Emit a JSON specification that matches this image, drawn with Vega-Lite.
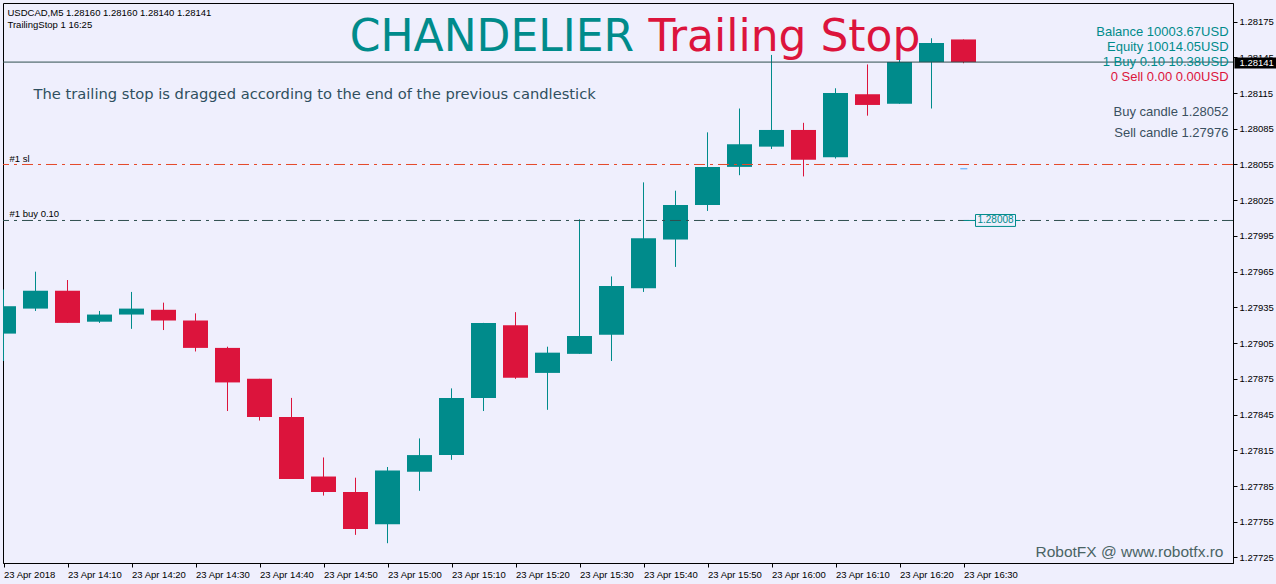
{
  "$schema": "https://vega.github.io/schema/vega-lite/v6.json",
  "width": 1230,
  "height": 560,
  "autosize": {"type": "none"},
  "padding": {"left": 3, "top": 3, "right": 43, "bottom": 21},
  "background": "#EFEFFD",
  "config": {
    "view": {"stroke": "#000000", "strokeWidth": 1, "fill": "#EFEFFD"},
    "axis": {"labelOverlap": false, "labelFlush": false, "labelBound": false, "grid": false}
  },
  "datasets": {
    "candles": [
      {"t": 0, "open": 1.27913, "high": 1.27950, "low": 1.27890, "close": 1.27936},
      {"t": 5, "open": 1.27934, "high": 1.27965, "low": 1.27932, "close": 1.27949},
      {"t": 10, "open": 1.27949, "high": 1.27958, "low": 1.27922, "close": 1.27922},
      {"t": 15, "open": 1.27923, "high": 1.27932, "low": 1.27922, "close": 1.27929},
      {"t": 20, "open": 1.27929, "high": 1.27948, "low": 1.27917, "close": 1.27934},
      {"t": 25, "open": 1.27933, "high": 1.27939, "low": 1.27916, "close": 1.27924},
      {"t": 30, "open": 1.27924, "high": 1.27930, "low": 1.27898, "close": 1.27901},
      {"t": 35, "open": 1.27901, "high": 1.27902, "low": 1.27848, "close": 1.27872},
      {"t": 40, "open": 1.27875, "high": 1.27875, "low": 1.27840, "close": 1.27843},
      {"t": 45, "open": 1.27843, "high": 1.27859, "low": 1.27791, "close": 1.27791},
      {"t": 50, "open": 1.27793, "high": 1.27809, "low": 1.27777, "close": 1.27780},
      {"t": 55, "open": 1.27780, "high": 1.27792, "low": 1.27744, "close": 1.27749},
      {"t": 60, "open": 1.27753, "high": 1.27801, "low": 1.27737, "close": 1.27798},
      {"t": 65, "open": 1.27797, "high": 1.27825, "low": 1.27781, "close": 1.27811},
      {"t": 70, "open": 1.27811, "high": 1.27867, "low": 1.27807, "close": 1.27859},
      {"t": 75, "open": 1.27859, "high": 1.27922, "low": 1.27848, "close": 1.27922},
      {"t": 80, "open": 1.27920, "high": 1.27931, "low": 1.27875, "close": 1.27876},
      {"t": 85, "open": 1.27880, "high": 1.27902, "low": 1.27849, "close": 1.27897},
      {"t": 90, "open": 1.27896, "high": 1.28009, "low": 1.27896, "close": 1.27911},
      {"t": 95, "open": 1.27912, "high": 1.27961, "low": 1.27890, "close": 1.27953},
      {"t": 100, "open": 1.27951, "high": 1.28040, "low": 1.27948, "close": 1.27993},
      {"t": 105, "open": 1.27992, "high": 1.28033, "low": 1.27969, "close": 1.28021},
      {"t": 110, "open": 1.28021, "high": 1.28082, "low": 1.28016, "close": 1.28053},
      {"t": 115, "open": 1.28053, "high": 1.28102, "low": 1.28046, "close": 1.28072},
      {"t": 120, "open": 1.28070, "high": 1.28147, "low": 1.28068, "close": 1.28084},
      {"t": 125, "open": 1.28084, "high": 1.28090, "low": 1.28045, "close": 1.28059},
      {"t": 130, "open": 1.28061, "high": 1.28119, "low": 1.28060, "close": 1.28115},
      {"t": 135, "open": 1.28114, "high": 1.28139, "low": 1.28096, "close": 1.28105},
      {"t": 140, "open": 1.28106, "high": 1.28166, "low": 1.28106, "close": 1.28141},
      {"t": 145, "open": 1.28141, "high": 1.28161, "low": 1.28102, "close": 1.28157},
      {"t": 150, "open": 1.28160, "high": 1.28160, "low": 1.28140, "close": 1.28141}
    ]
  },
  "layer": [
    {
      "data": {"name": "candles"},
      "mark": {"type": "rule", "clip": true, "strokeWidth": 1},
      "encoding": {
        "x": {
          "field": "t", "type": "quantitative", "title": null,
          "scale": {"domain": [-0.078125, 192.109375], "nice": false, "zero": false, "padding": 0},
          "axis": {
            "title": null, "orient": "bottom", "grid": false, "tickCount": 40,
            "values": [0, 10, 20, 30, 40, 50, 60, 70, 80, 90, 100, 110, 120, 130, 140, 150],
            "labelExpr": "datum.value == 0 ? '23 Apr 2018' : '23 Apr ' + floor((840 + datum.value) / 60) + ':' + (((840 + datum.value) % 60) < 10 ? '0' : '') + ((840 + datum.value) % 60)",
            "labelAlign": "left", "labelBaseline": "top", "labelPadding": 2,
            "tickSize": 4, "tickColor": "#000000", "domainColor": "#000000",
            "labelColor": "#000000", "labelFont": "Liberation Sans", "labelFontSize": 9.5,
            "labelOverlap": false, "labelFlush": false, "labelBound": false
          }
        },
        "y": {
          "field": "low", "type": "quantitative", "title": null,
          "scale": {"domain": [1.2772038, 1.2819061], "nice": false, "zero": false, "padding": 0},
          "axis": {
            "title": null, "orient": "right", "grid": false, "tickCount": 40,
            "values": [1.27725, 1.27755, 1.27785, 1.27815, 1.27845, 1.27875, 1.27905, 1.27935, 1.27965, 1.27995, 1.28025, 1.28055, 1.28085, 1.28115, 1.28145, 1.28175],
            "format": ".5f", "tickSize": 4, "labelPadding": 2,
            "tickColor": "#000000", "domainColor": "#000000",
            "labelColor": "#000000", "labelFont": "Liberation Sans", "labelFontSize": 9.5,
            "labelBaseline": "middle", "labelOverlap": false, "labelFlush": false, "labelBound": false
          }
        },
        "y2": {"field": "high"},
        "color": {"condition": {"test": "datum.close >= datum.open", "value": "#008B8B"}, "value": "#DC143C"}
      }
    },
    {
      "data": {"name": "candles"},
      "mark": {"type": "bar", "clip": true, "width": 25},
      "encoding": {
        "x": {"field": "t", "type": "quantitative", "title": null},
        "y": {"field": "open", "type": "quantitative", "title": null},
        "y2": {"field": "close"},
        "color": {"condition": {"test": "datum.close >= datum.open", "value": "#008B8B"}, "value": "#DC143C"}
      }
    },
    {
      "data": {"values": [{"p": 1.28141}]},
      "mark": {"type": "rule", "color": "#2F4F4F", "strokeWidth": 1},
      "encoding": {"y": {"field": "p", "type": "quantitative", "title": null}}
    },
    {
      "data": {"values": [{"p": 1.28055}]},
      "mark": {"type": "rule", "color": "#E5492A", "strokeWidth": 1, "strokeDash": [11, 5, 3, 5]},
      "encoding": {"y": {"field": "p", "type": "quantitative", "title": null}}
    },
    {
      "data": {"values": [{"p": 1.28008}]},
      "mark": {"type": "rule", "color": "#2F4F4F", "strokeWidth": 1, "strokeDash": [11, 5, 3, 5]},
      "encoding": {"y": {"field": "p", "type": "quantitative", "title": null}}
    },
    {
      "data": {"values": [{"t": 150, "t2": 158.9, "p": 1.28008}]},
      "mark": {"type": "rule", "color": "#008B8B", "strokeWidth": 1},
      "encoding": {
        "x": {"field": "t", "type": "quantitative", "title": null},
        "x2": {"field": "t2"},
        "y": {"field": "p", "type": "quantitative", "title": null}
      }
    },
    {
      "data": {"values": [{"t": 149.5, "t2": 150.6, "p": 1.280514}]},
      "mark": {"type": "rule", "color": "#4DA6FF", "strokeWidth": 1},
      "encoding": {
        "x": {"field": "t", "type": "quantitative", "title": null},
        "x2": {"field": "t2"},
        "y": {"field": "p", "type": "quantitative", "title": null}
      }
    },
    {
      "data": {"values": [{"t": 151.875, "t2": 158.125, "p": 1.28013, "p2": 1.28003}]},
      "mark": {"type": "rect", "fill": "#EFEFFD", "stroke": "#008B8B", "strokeWidth": 1},
      "encoding": {
        "x": {"field": "t", "type": "quantitative", "title": null},
        "x2": {"field": "t2"},
        "y": {"field": "p", "type": "quantitative", "title": null},
        "y2": {"field": "p2"}
      }
    },
    {
      "data": {"values": [{"t": 155, "p": 1.28008, "text": "1.28008"}]},
      "mark": {"type": "text", "align": "center", "baseline": "middle", "font": "Liberation Sans", "fontSize": 10, "color": "#008B8B"},
      "encoding": {
        "x": {"field": "t", "type": "quantitative", "title": null},
        "y": {"field": "p", "type": "quantitative", "title": null},
        "text": {"field": "text"}
      }
    },
    {
      "data": {"values": [{"t": 192.34, "t2": 199.0, "p": 1.281448, "p2": 1.281356}]},
      "mark": {"type": "rect", "fill": "#000000"},
      "encoding": {
        "x": {"field": "t", "type": "quantitative", "title": null},
        "x2": {"field": "t2"},
        "y": {"field": "p", "type": "quantitative", "title": null},
        "y2": {"field": "p2"}
      }
    },
    {
      "data": {"values": [{"t": 193.125, "p": 1.281402, "text": "1.28141"}]},
      "mark": {"type": "text", "align": "left", "baseline": "middle", "font": "Liberation Sans", "fontSize": 9.5, "color": "#FFFFFF"},
      "encoding": {
        "x": {"field": "t", "type": "quantitative", "title": null},
        "y": {"field": "p", "type": "quantitative", "title": null},
        "text": {"field": "text"}
      }
    },
    {
      "data": {"values": [
        {"t": 0.625, "p": 1.281801, "text": "USDCAD,M5  1.28160 1.28160 1.28140 1.28141"},
        {"t": 0.625, "p": 1.281700, "text": "TrailingStop 1 16:25"},
        {"t": 0.9375, "p": 1.280575, "text": "#1 sl"},
        {"t": 0.9375, "p": 1.280105, "text": "#1 buy 0.10"}
      ]},
      "mark": {"type": "text", "align": "left", "baseline": "alphabetic", "font": "Liberation Sans", "fontSize": 9.5, "color": "#000000"},
      "encoding": {
        "x": {"field": "t", "type": "quantitative", "title": null},
        "y": {"field": "p", "type": "quantitative", "title": null},
        "text": {"field": "text"}
      }
    },
    {
      "data": {"values": [{"t": 54.1, "p": 1.281507, "text": "CHANDELIER"}]},
      "mark": {"type": "text", "align": "left", "baseline": "alphabetic", "font": "DejaVu Sans", "fontSize": 44, "color": "#008B8B"},
      "encoding": {
        "x": {"field": "t", "type": "quantitative", "title": null},
        "y": {"field": "p", "type": "quantitative", "title": null},
        "text": {"field": "text"}
      }
    },
    {
      "data": {"values": [{"t": 100.78, "p": 1.281507, "text": "Trailing Stop"}]},
      "mark": {"type": "text", "align": "left", "baseline": "alphabetic", "font": "DejaVu Sans", "fontSize": 44, "color": "#DC143C"},
      "encoding": {
        "x": {"field": "t", "type": "quantitative", "title": null},
        "y": {"field": "p", "type": "quantitative", "title": null},
        "text": {"field": "text"}
      }
    },
    {
      "data": {"values": [{"t": 4.6875, "p": 1.281104, "text": "The trailing stop is dragged according to the end of the previous candlestick"}]},
      "mark": {"type": "text", "align": "left", "baseline": "alphabetic", "font": "DejaVu Sans", "fontSize": 14.7, "color": "#2F4F5F"},
      "encoding": {
        "x": {"field": "t", "type": "quantitative", "title": null},
        "y": {"field": "p", "type": "quantitative", "title": null},
        "text": {"field": "text"}
      }
    },
    {
      "data": {"values": [
        {"t": 191.41, "p": 1.281625, "text": "Balance 10003.67USD"},
        {"t": 191.41, "p": 1.281499, "text": "Equity 10014.05USD"},
        {"t": 191.41, "p": 1.281373, "text": "1 Buy 0.10 10.38USD"}
      ]},
      "mark": {"type": "text", "align": "right", "baseline": "alphabetic", "font": "Liberation Sans", "fontSize": 13, "color": "#008B8B"},
      "encoding": {
        "x": {"field": "t", "type": "quantitative", "title": null},
        "y": {"field": "p", "type": "quantitative", "title": null},
        "text": {"field": "text"}
      }
    },
    {
      "data": {"values": [{"t": 191.41, "p": 1.281247, "text": "0 Sell 0.00 0.00USD"}]},
      "mark": {"type": "text", "align": "right", "baseline": "alphabetic", "font": "Liberation Sans", "fontSize": 13, "color": "#DC143C"},
      "encoding": {
        "x": {"field": "t", "type": "quantitative", "title": null},
        "y": {"field": "p", "type": "quantitative", "title": null},
        "text": {"field": "text"}
      }
    },
    {
      "data": {"values": [
        {"t": 191.41, "p": 1.280961, "text": "Buy candle 1.28052"},
        {"t": 191.41, "p": 1.280785, "text": "Sell candle 1.27976"}
      ]},
      "mark": {"type": "text", "align": "right", "baseline": "alphabetic", "font": "Liberation Sans", "fontSize": 13, "color": "#3A5060"},
      "encoding": {
        "x": {"field": "t", "type": "quantitative", "title": null},
        "y": {"field": "p", "type": "quantitative", "title": null},
        "text": {"field": "text"}
      }
    },
    {
      "data": {"values": [{"t": 190.625, "p": 1.27725, "text": "RobotFX @ www.robotfx.ro"}]},
      "mark": {"type": "text", "align": "right", "baseline": "alphabetic", "font": "Liberation Sans", "fontSize": 15.5, "color": "#4A6464"},
      "encoding": {
        "x": {"field": "t", "type": "quantitative", "title": null},
        "y": {"field": "p", "type": "quantitative", "title": null},
        "text": {"field": "text"}
      }
    }
  ]
}
